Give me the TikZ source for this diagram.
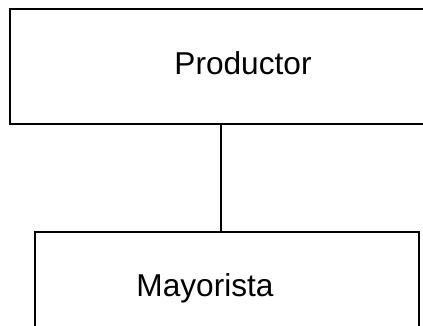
\documentclass[tikz,border=0pt]{standalone}
\usepackage{fontspec}
\setmainfont{Liberation Sans}
\begin{document}
\begin{tikzpicture}[
			x=0.02cm, y=-0.02cm,
			caja/.style={draw, line width=1.1pt, rectangle, inner sep=0pt},
			texto/.style={font=\fontsize{18}{22}\selectfont, inner sep=0pt}
			]
			\useasboundingbox (0,0) rectangle (423,325);
			\node [caja, minimum width=466*0.02cm, minimum height=115*0.02cm] (productor) at (243,66.5) {};
			\node [caja, minimum width=384*0.02cm, minimum height=140*0.02cm] (mayorista) at (227,302) {};
			\node [texto] (tprod) at (243,63) {Productor};
			\node [texto] (tmay) at (205,288) {Mayorista};
			\coordinate (eje) at (221,0);
			\draw [line width=1.1pt] (productor.south -| eje) -- (mayorista.north -| eje);
		\end{tikzpicture}
\end{document}
